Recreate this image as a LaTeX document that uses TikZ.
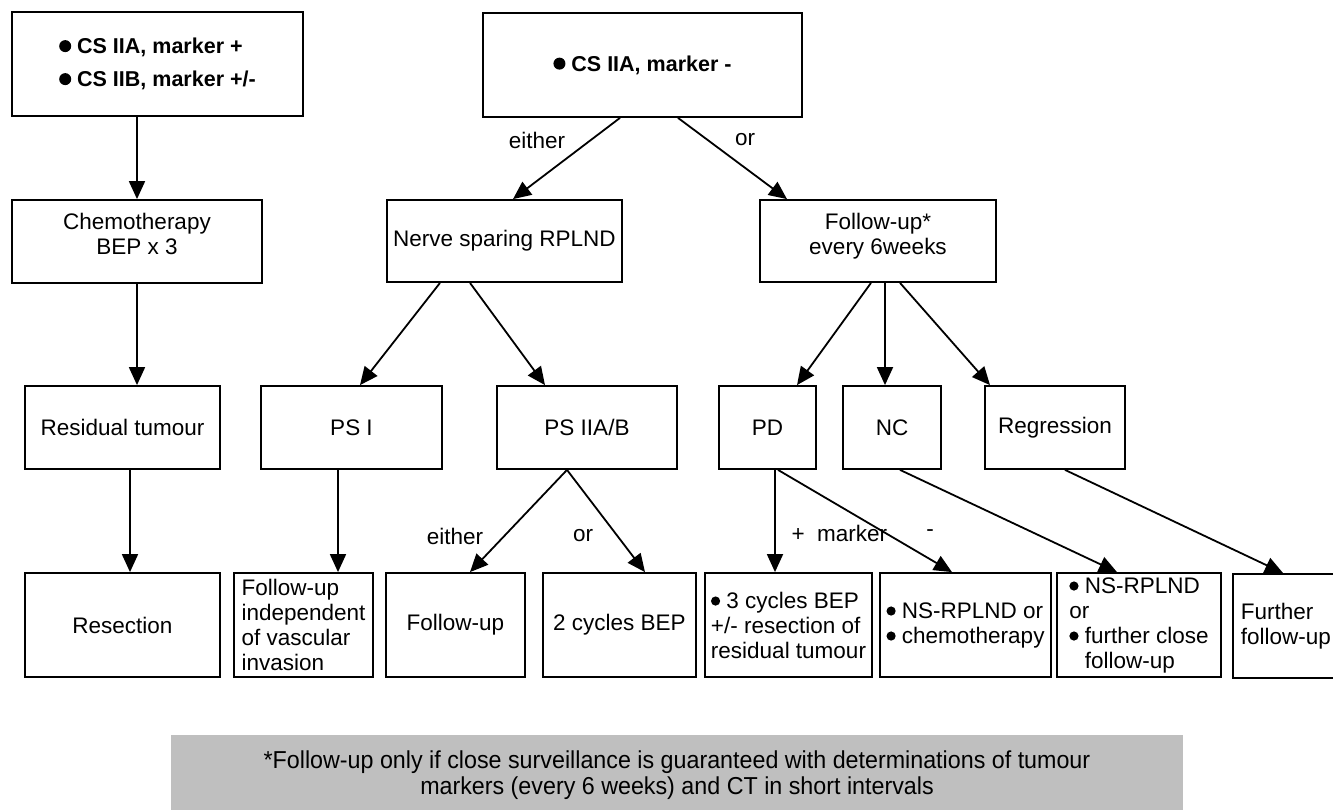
\documentclass[tikz,border=0pt]{standalone}
\usepackage{fontspec}
\setmainfont{Liberation Sans}
\newfontfamily\notefont[FakeStretch=0.95]{Liberation Sans}
\usepackage{tikz}
\usetikzlibrary{arrows.meta}
\def\bigdot{\tikz[baseline=-7.5pt]{\fill (0pt,0pt) circle (6pt);}}
\def\smalldot{\tikz[baseline=-7pt]{\fill (0pt,0pt) circle (4.6pt);}}
\tikzset{
	box/.style={draw,line width=1.8pt,inner sep=2pt,align=center,font=\fontsize{22.5}{25}\selectfont},
	bbox/.style={box,align=left,font=\bfseries\fontsize{21.5}{33}\selectfont},
	flow/.style={line width=1.8pt,-{Triangle[width=16pt,length=18pt]}},
	lbl/.style={font=\fontsize{22.5}{25}\selectfont},
}
\begin{document}
\begin{tikzpicture}[x=1pt,y=-1pt]
					\useasboundingbox (0,0) rectangle (1333,810);
					\clip (0,0) rectangle (1333,810);
					\node[bbox,minimum width=291pt,minimum height=104pt] (csplus) at (157.5,64) {\bigdot\ CS IIA, marker +\\\bigdot\ CS IIB, marker +/-};
					\node[bbox,minimum width=319pt,minimum height=104pt] (csminus) at (642.5,65) {\bigdot\ CS IIA, marker -};
					\node[box,minimum width=250pt,minimum height=83pt] (chemo) at (137,241.5) {};
					\node[lbl,align=center] (chemotxt) at (137,234) {Chemotherapy\\BEP x 3};
					\node[box,minimum width=235pt,minimum height=82pt] (rplnd) at (504.5,241) {Nerve sparing RPLND};
					\node[box,minimum width=236pt,minimum height=82pt] (fup) at (878,241) {};
					\node[lbl,align=center] (fuptxt) at (878,236) {Follow-up*\\every 6weeks};
					\node[box,minimum width=195pt,minimum height=83pt] (resid) at (122.5,427.5) {Residual tumour};
					\node[box,minimum width=181pt,minimum height=83pt] (psone) at (351.5,427.5) {PS I};
					\node[box,minimum width=180pt,minimum height=83pt] (pstwo) at (587,427.5) {PS IIA/B};
					\node[box,minimum width=97pt,minimum height=83pt] (pd) at (767.5,427.5) {PD};
					\node[box,minimum width=98pt,minimum height=83pt] (nc) at (892,427.5) {NC};
					\node[box,minimum width=140pt,minimum height=83pt] (regr) at (1055,427.5) {Regression};
					\node[box,minimum width=195pt,minimum height=104pt] (resect) at (122.5,625) {Resection};
					\node[box,align=left,minimum width=139pt,minimum height=104pt] (fuind) at (303.5,625) {Follow-up\\independent\\of vascular\\invasion};
					\node[box,minimum width=139pt,minimum height=104pt] (fuonly) at (455.5,625) {Follow-up};
					\node[box,minimum width=153pt,minimum height=104pt] (twobep) at (619.5,625) {2 cycles BEP};
					\node[box,align=left,minimum width=167pt,minimum height=104pt] (threebep) at (788.5,625) {\smalldot\ 3 cycles BEP\\+/- resection of\\residual tumour};
					\node[box,align=left,minimum width=171pt,minimum height=104pt] (nschemo) at (965.5,625) {\smalldot\ NS-RPLND or\\\smalldot\ chemotherapy};
					\node[box,align=left,minimum width=164pt,minimum height=104pt] (nsclose) at (1139,625) {\smalldot\ NS-RPLND\\or\\\smalldot\ further close\\\hphantom{\smalldot\ }follow-up};
					\node[box,align=left,anchor=north west,text width=200pt,inner xsep=8pt,minimum height=104pt] (further) at (1232,573) {Further\\follow-up};
					\node[lbl] (either1) at (537,140) {either};
					\node[lbl] (or1) at (745,140) {or};
					\node[lbl] (either2) at (455,536) {either};
					\node[lbl] (or2) at (583,536) {or};
					\node[lbl,anchor=west] (mplus) at (788,533) {+\ \ marker};
					\node[lbl] (mminus) at (930,533) {-};
					\draw[flow] (csplus.south -| chemo.north) -- (chemo.north);
					\draw[flow] (chemo.south) -- (resid.north -| chemo.south);
					\draw[flow] ([xshift=7.5pt]resid.south) -- ([xshift=7.5pt]resect.north);
					\draw[flow] ([xshift=-22.5pt]csminus.south) -- ([xshift=8.5pt]rplnd.north);
					\draw[flow] ([xshift=35.5pt]csminus.south) -- ([xshift=-91pt]fup.north);
					\draw[flow] ([xshift=-64.5pt]rplnd.south) -- ([xshift=8.5pt]psone.north);
					\draw[flow] ([xshift=-34.5pt]rplnd.south) -- ([xshift=-42pt]pstwo.north);
					\draw[flow] ([xshift=-7pt]fup.south) -- ([xshift=29.5pt]pd.north);
					\draw[flow] ([xshift=7pt]fup.south) -- ([xshift=-7pt]nc.north);
					\draw[flow] ([xshift=22pt]fup.south) -- ([xshift=-65pt]regr.north);
					\draw[flow] ([xshift=-13.5pt]psone.south) -- ([xshift=34.5pt]fuind.north);
					\draw[flow] ([xshift=-20pt]pstwo.south) -- ([xshift=14.5pt]fuonly.north);
					\draw[flow] ([xshift=-20pt]pstwo.south) -- ([xshift=25.5pt]twobep.north);
					\draw[flow] ([xshift=7.5pt]pd.south) -- ([xshift=-13.5pt]threebep.north);
					\draw[flow] ([xshift=10.5pt]pd.south) -- ([xshift=-13.5pt]nschemo.north);
					\draw[flow] ([xshift=8pt]nc.south) -- ([xshift=-22pt]nsclose.north);
					\draw[flow] ([xshift=10pt]regr.south) -- ([xshift=51pt]further.north west);
					\node[fill=black!25,minimum width=1012pt,minimum height=80pt,align=center,font=\notefont\fontsize{24.5}{26}\selectfont] (note) at (677,775) {*Follow-up only if close surveillance is guaranteed with determinations of tumour\\markers (every 6 weeks) and CT in short intervals};
				\end{tikzpicture}
\end{document}
